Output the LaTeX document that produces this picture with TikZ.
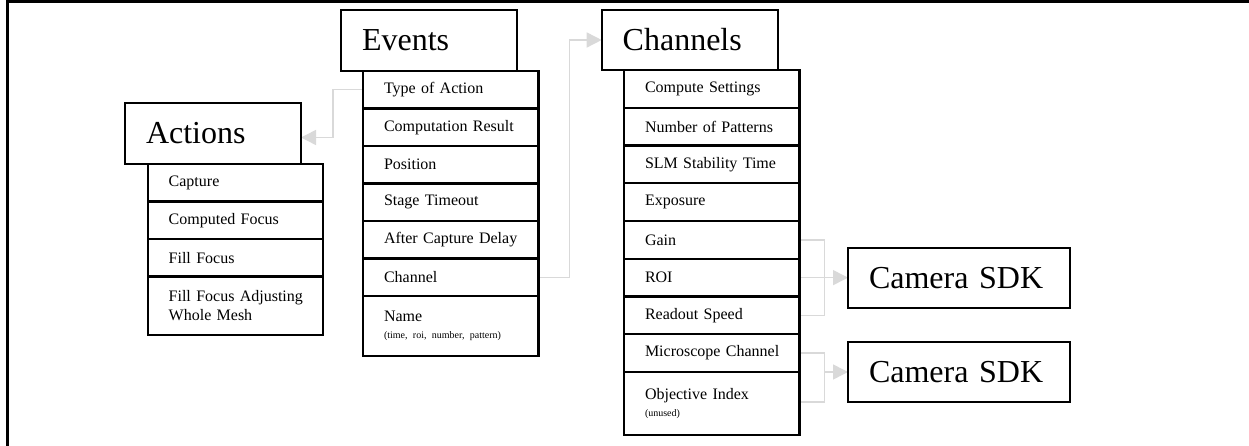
\documentclass[tikz,border=0pt]{standalone}
\usepackage{fontspec}
\setmainfont{Liberation Serif}
\usetikzlibrary{arrows.meta,backgrounds}

\newcommand\rowfont{\fontsize{16}{19}\selectfont}
\newcommand\headfont{\fontsize{32}{38}\selectfont}
\newcommand\notefont{\fontsize{10}{12}\selectfont}

\tikzset{
  box/.style={draw=black, line width=2.4pt, fill=white, anchor=north west,
    inner xsep=21pt, inner ysep=0pt, outer sep=0pt, align=left},
  head/.style={box, font=\headfont, minimum height=61pt, text width=134pt},
  field/.style={box, font=\rowfont, minimum height=37.5pt, text width=133.5pt},
  link/.style={draw=gray!30, line width=1.5pt},
  linkarrow/.style={link, -{Triangle[length=15pt,width=15pt]}},
}

\begin{document}
\begin{tikzpicture}[x=1pt,y=-1pt]
\useasboundingbox (0,0) rectangle (1249,446);

% page frame
\draw[line width=2.5pt] (1249,1.3) -- (7.7,1.3) -- (7.7,446);

% Actions
\node[head] (act) at (125,103) {Actions};
\node[field] (a1) at (147.7,164) {Capture};
\node[field] (a2) at (a1.south west) {Computed Focus};
\node[field] (a3) at (a2.south west) {Fill Focus};
\node[field, minimum height=58.5pt] (a4) at (a3.south west)
  {\mbox{Fill Focus Adjusting}\\\mbox{Whole Mesh}};

% Events
\node[head] (evt) at (341,10) {Events};
\node[field] (e1) at (363,71) {Type of Action};
\node[field] (e2) at (e1.south west) {\mbox{Computation Result}};
\node[field] (e3) at (e2.south west) {Position};
\node[field] (e4) at (e3.south west) {Stage Timeout};
\node[field] (e5) at (e4.south west) {\mbox{After Capture Delay}};
\node[field] (e6) at (e5.south west) {Channel};
\node[field, minimum height=60pt] (e7) at (e6.south west)
  {Name\\[-2pt]{\notefont\mbox{(time, roi, number, pattern)}}};

% Channels
\node[head, minimum height=60pt] (chn) at (601.7,10) {Channels};
\node[field, minimum height=37.75pt] (c1) at (624,70) {Compute Settings};
\node[field, minimum height=37.75pt] (c2) at (c1.south west) {\mbox{Number of Patterns}};
\node[field, minimum height=37.75pt] (c3) at (c2.south west) {\mbox{SLM Stability Time}};
\node[field, minimum height=37.75pt] (c4) at (c3.south west) {Exposure};
\node[field, minimum height=37.75pt] (c5) at (c4.south west) {Gain};
\node[field, minimum height=37.75pt] (c6) at (c5.south west) {ROI};
\node[field, minimum height=37.75pt] (c7) at (c6.south west) {Readout Speed};
\node[field, minimum height=37.75pt] (c8) at (c7.south west) {\mbox{Microscope Channel}};
\node[field, minimum height=63pt] (c9) at (c8.south west)
  {Objective Index\\[-2pt]{\notefont (unused)}};

% Camera SDK targets
\node[head, minimum height=60pt, text width=180pt] (sdk1) at (848,248) {Camera SDK};
\node[head, minimum height=60pt, text width=180pt] (sdk2) at (848,342) {Camera SDK};

% connectors
\begin{scope}[on background layer]
  \draw[linkarrow] (e1.west) -- ++(-30,0) |- ([yshift=-4pt]act.east);
  \draw[linkarrow] (e6.east) -- ++(31,0) |- (chn.west);

  \coordinate (v1) at ([xshift=25pt]c5.east);
  \draw[link] (c5.east) -- (v1) |- (c7.east);
  \draw[linkarrow] (c6.east) -- (c6.east -| sdk1.west);

  \coordinate (v2) at ([xshift=25pt]c8.east);
  \draw[link] (c8.east) -- (v2) |- ([yshift=1.5pt]c9.east);
  \draw[linkarrow] (sdk2.west -| v2) -- (sdk2.west);
\end{scope}
\end{tikzpicture}
\end{document}
